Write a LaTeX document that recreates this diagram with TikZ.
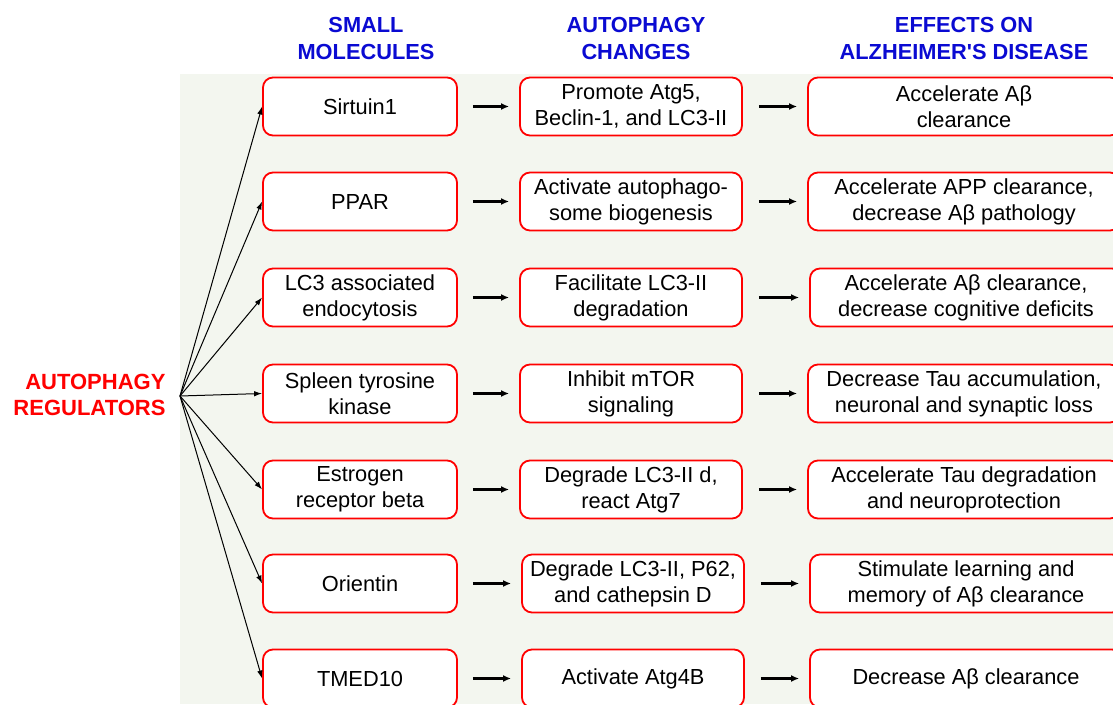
\documentclass[tikz,border=0pt]{standalone}
\usepackage{fontspec}
\setmainfont{Liberation Sans}
\usetikzlibrary{arrows.meta}
\definecolor{bgc}{RGB}{243,246,239}
\definecolor{hdblue}{RGB}{10,10,210}
\definecolor{boxred}{RGB}{255,0,0}
\tikzset{
  x=1pt,y=1pt,
  cell/.style={draw=boxred,line width=1.8pt,rounded corners=10pt,fill=white,
    minimum height=58pt,align=center,inner sep=2pt,
    font=\fontsize{21.8}{26}\selectfont},
  c1/.style={cell,minimum width=194pt},
  c2/.style={cell,minimum width=222pt},
  c3/.style={cell,minimum width=312pt},
  hdr/.style={align=center,text=hdblue,font=\bfseries\fontsize{21.8}{27}\selectfont},
  fan/.style={line width=1pt,-{Latex[length=8pt,width=5.5pt]}},
  flow/.style={line width=2.4pt,-{Latex[length=8pt,width=7pt]}}
}
\begin{document}
\begin{tikzpicture}
\useasboundingbox (0,0) rectangle (1113,-704);
\fill[bgc] (180,-74) rectangle (1113,-704);
\begin{scope}
\clip (0,0) rectangle (1113,-704);
\node[hdr] (h1) at (366,-38) {SMALL\\MOLECULES};
\node[hdr] (h2) at (636,-38) {AUTOPHAGY\\CHANGES};
\node[hdr] (h3) at (964,-38) {EFFECTS ON\\ALZHEIMER\textquotesingle S DISEASE};
\node[align=right,anchor=east,text=boxred,font=\bfseries\fontsize{22}{26.5}\selectfont] (reg) at (169,-395) {AUTOPHAGY\\REGULATORS};
\coordinate (fp) at (180,-396);

\node[c1] (a1) at (360,-106.5) {Sirtuin1};
\node[c1] (a2) at (360,-201.5) {PPAR};
\node[c1] (a3) at (360,-297.5) {LC3 associated\\endocytosis};
\node[c1] (a4) at (360,-393.5) {Spleen tyrosine\\kinase};
\node[c1] (a5) at (360,-489.5) {Estrogen\\receptor beta};
\node[c1] (a6) at (360,-583.5) {Orientin};
\node[c1] (a7) at (360,-678.5) {TMED10};

\node[c2] (b1) at (631,-106.5) {Promote Atg5,\\Beclin-1, and LC3-II};
\node[c2] (b2) at (631,-201.5) {Activate autophago-\\some biogenesis};
\node[c2] (b3) at (631,-297.5) {Facilitate LC3-II\\degradation};
\node[c2] (b4) at (631,-393.5) {Inhibit mTOR\\signaling};
\node[c2] (b5) at (631,-489.5) {Degrade LC3-II d,\\react Atg7};
\node[c2] (b6) at (633,-583.5) {Degrade LC3-II, P62,\\and cathepsin D};
\node[c2] (b7) at (633,-678.5) {Activate Atg4B};

\node[c3] (e1) at (964,-106.5) {Accelerate Aβ\\clearance};
\node[c3] (e2) at (964,-201.5) {Accelerate APP clearance,\\decrease Aβ pathology};
\node[c3] (e3) at (966,-297.5) {Accelerate Aβ clearance,\\decrease cognitive deficits};
\node[c3] (e4) at (964,-393.5) {Decrease Tau accumulation,\\neuronal and synaptic loss};
\node[c3] (e5) at (964,-489.5) {Accelerate Tau degradation\\and neuroprotection};
\node[c3] (e6) at (966,-583.5) {Stimulate learning and\\memory of Aβ clearance};
\node[c3] (e7) at (966,-678.5) {Decrease Aβ clearance};

\foreach \i in {1,...,7}{
  \draw[fan] (fp) -- (a\i.west);
  \draw[flow] ([xshift=15pt]a\i.east) -- ([xshift=-10pt]b\i.west);
  \draw[flow] ([xshift=16pt]b\i.east) -- ([xshift=-10pt]e\i.west);
}
\end{scope}
\end{tikzpicture}
\end{document}
